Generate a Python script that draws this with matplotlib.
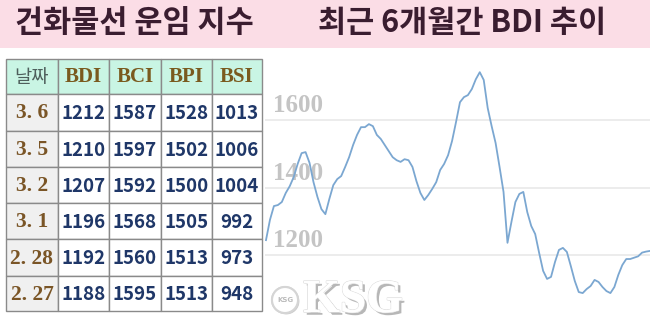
import matplotlib
matplotlib.use("Agg")
import matplotlib.pyplot as plt
import matplotlib.patheffects as pe
from matplotlib.patches import Rectangle, Circle

# ---------------- data ----------------
title_left = "건화물선 운임 지수"
title_right = "최근 6개월간 BDI 추이"

table_header = ["날짜", "BDI", "BCI", "BPI", "BSI"]
dates = ["3. 6", "3. 5", "3. 2", "3. 1", "2. 28", "2. 27"]
bdi = [1212, 1210, 1207, 1196, 1192, 1188]
bci = [1587, 1597, 1592, 1568, 1560, 1595]
bpi = [1528, 1502, 1500, 1505, 1513, 1513]
bsi = [1013, 1006, 1004, 992, 973, 948]

# BDI over the last six months
bdi_trend = [1244, 1304, 1345, 1348, 1357, 1384, 1404, 1431, 1470, 1502,
             1505, 1473, 1416, 1372, 1336, 1321, 1366, 1407, 1425, 1434,
             1461, 1490, 1526, 1556, 1579, 1579, 1588, 1582, 1556, 1544,
             1526, 1508, 1490, 1481, 1476, 1484, 1481, 1461, 1419, 1384,
             1363, 1378, 1396, 1416, 1452, 1470, 1496, 1538, 1594, 1653,
             1668, 1674, 1692, 1721, 1742, 1719, 1636, 1582, 1532, 1461,
             1387, 1236, 1298, 1357, 1381, 1387, 1327, 1286, 1262, 1206,
             1153, 1129, 1135, 1179, 1215, 1221, 1209, 1167, 1123, 1090,
             1087, 1099, 1108, 1126, 1120, 1105, 1093, 1087, 1105, 1141,
             1170, 1188, 1188, 1192, 1196, 1207, 1210, 1212]
y_ticks = [1200, 1400, 1600]

# ---------------- figure ----------------
W, H = 650, 326
fig = plt.figure(figsize=(W / 100, H / 100), dpi=100)
fig.patch.set_facecolor("white")

KR = ["Noto Sans CJK KR", "DejaVu Sans"]

# background / table axes in pixel coordinates
ax_bg = fig.add_axes([0, 0, 1, 1], zorder=0)
ax_bg.set_xlim(0, W)
ax_bg.set_ylim(H, 0)
ax_bg.axis("off")

# pink header band
ax_bg.add_patch(Rectangle((0, 0), W, 48, facecolor="#fbdde6", edgecolor="none"))
title_color = "#3a1d30"
ax_bg.text(134, 23, title_left, family=KR, fontweight="heavy", fontsize=22,
           color=title_color, ha="center", va="center")
ax_bg.text(462, 23, title_right, family=KR, fontweight="heavy", fontsize=22,
           color=title_color, ha="center", va="center")

# table
col_edges = [6, 58, 109, 161, 212, 262]
row_edges = [59, 94, 131, 167, 203, 239, 276, 311]
header_bg = "#c9f5e4"
first_col_bg = "#f0f0f0"
grid_c = "#8a8a8a"

for r in range(len(row_edges) - 1):
    for c in range(len(col_edges) - 1):
        x0, x1 = col_edges[c], col_edges[c + 1]
        y0, y1 = row_edges[r], row_edges[r + 1]
        if r == 0:
            fc = header_bg
        elif c == 0:
            fc = first_col_bg
        else:
            fc = "white"
        ax_bg.add_patch(Rectangle((x0, y0), x1 - x0, y1 - y0, facecolor=fc,
                                  edgecolor=grid_c, linewidth=1.0))

def cx(c):
    return (col_edges[c] + col_edges[c + 1]) / 2

def cy(r):
    return (row_edges[r] + row_edges[r + 1]) / 2 + 1

# header texts
ax_bg.text(cx(0), cy(0), table_header[0], family=KR, fontsize=13.5,
           color="#4e5f5c", ha="center", va="center")
for c in range(1, 5):
    ax_bg.text(cx(c), cy(0), table_header[c], family="Liberation Serif",
               fontweight="bold", fontsize=15, color="#7a5a1e",
               ha="center", va="center")

num_color = "#1f3768"
cols = [bdi, bci, bpi, bsi]
for i, d in enumerate(dates):
    r = i + 1
    ax_bg.text(cx(0), cy(r), d, family="Liberation Serif", fontweight="bold",
               fontsize=15.5, color="#7a5526", ha="center", va="center")
    for c, series in enumerate(cols, start=1):
        ax_bg.text(cx(c), cy(r), str(series[i]), family=KR,
                   fontweight="bold", fontsize=13.5, color=num_color,
                   ha="center", va="center")

# ---------------- line chart ----------------
px_left, px_right, px_top, px_bottom = 265, 650, 56, 315
ax = fig.add_axes([px_left / W, 1 - px_bottom / H,
                   (px_right - px_left) / W, (px_bottom - px_top) / H], zorder=2)
ax.patch.set_alpha(0)
x = list(range(len(bdi_trend)))
ax.set_xlim(-0.25, len(bdi_trend) - 1)
ax.set_ylim(1022, 1790)
for v in y_ticks:
    ax.axhline(v, color="#ebebeb", linewidth=1.3, zorder=1)
    ax.annotate(str(v), xy=(0, v), xycoords=("axes fraction", "data"),
                xytext=(8, 3), textcoords="offset pixels",
                ha="left", va="bottom", family="Liberation Serif",
                fontweight="bold", fontsize=18, color="#c4c4c4", zorder=2)
ax.plot(x, bdi_trend, color="#7ba7d1", linewidth=1.3, zorder=3,
        solid_joinstyle="round")
for s in ax.spines.values():
    s.set_visible(False)
ax.set_xticks([])
ax.set_yticks([])

# ---------------- watermark ----------------
ax_top = fig.add_axes([0, 0, 1, 1], zorder=5)
ax_top.set_xlim(0, W)
ax_top.set_ylim(H, 0)
ax_top.axis("off")
ax_top.patch.set_alpha(0)
ax_top.add_patch(Circle((285, 300), 13, facecolor="white", edgecolor="#d5d5d5",
                        linewidth=1.5,
                        path_effects=[pe.withSimplePatchShadow(offset=(1, -1), shadow_rgbFace="#999999", alpha=0.5), pe.Normal()]))
ax_top.text(285, 300, "KSG", fontsize=5, color="#bbbbbb", ha="center",
            va="center", fontweight="bold")
ax_top.text(353, 301, "KSG", family="Liberation Serif", fontweight="bold",
            fontsize=34, color="white", ha="center", va="center",
            path_effects=[pe.withSimplePatchShadow(offset=(2, -2), shadow_rgbFace="#888888", alpha=0.6),
                          pe.withStroke(linewidth=1, foreground="#dddddd"), pe.Normal()])

fig.savefig("out.png", dpi=100, facecolor="white")
